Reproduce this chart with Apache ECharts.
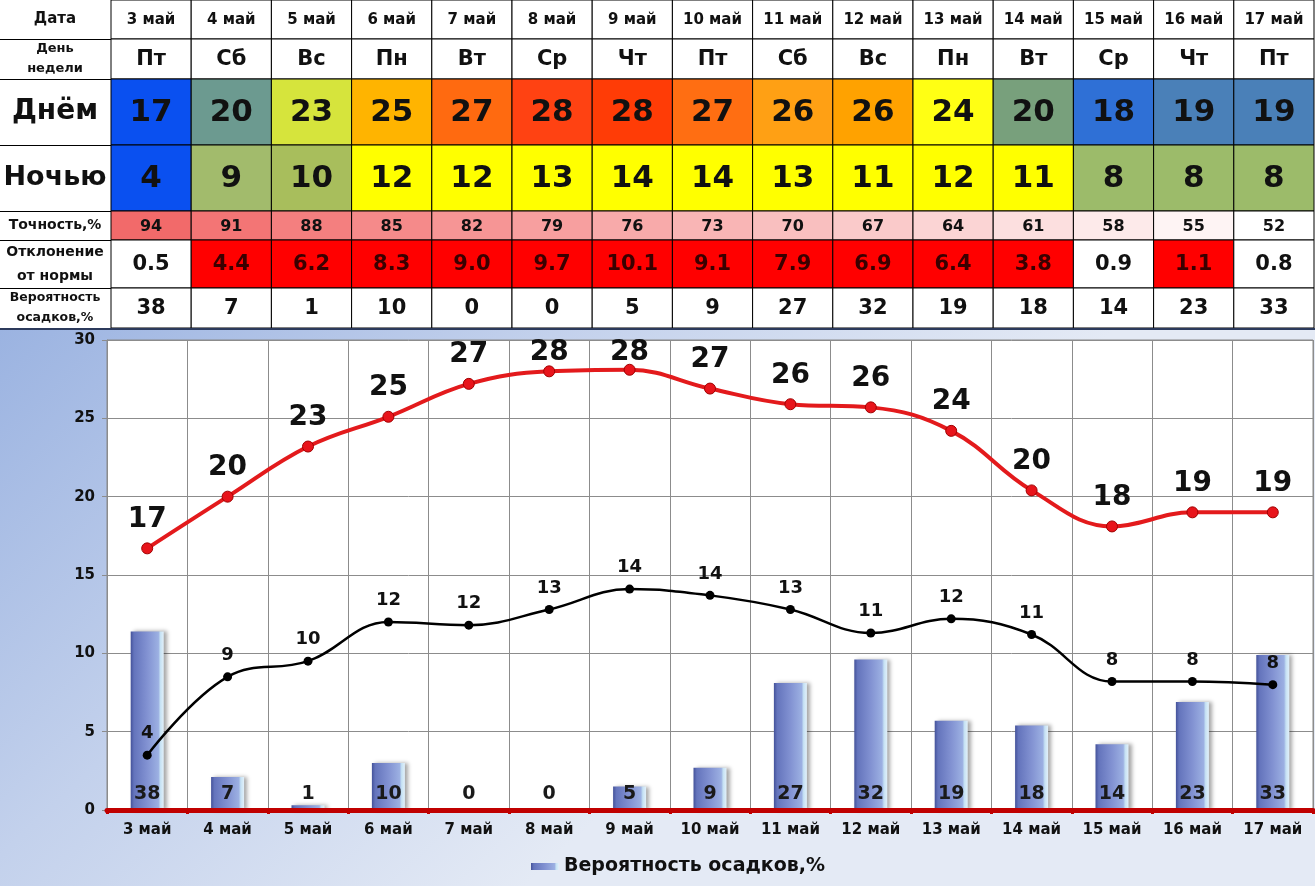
<!DOCTYPE html>
<html><head><meta charset="utf-8">
<script src="https://cdn.jsdelivr.net/npm/echarts@6/dist/echarts.min.js"></script>
<style>html,body{margin:0;padding:0;background:#fff}#c{width:1315px;height:886px}</style>
</head><body><div id="c"></div><script>
// ---------- data ----------
const dates = ['3 май','4 май','5 май','6 май','7 май','8 май','9 май','10 май','11 май','12 май','13 май','14 май','15 май','16 май','17 май'];
const weekdays = ['Пт','Сб','Вс','Пн','Вт','Ср','Чт','Пт','Сб','Вс','Пн','Вт','Ср','Чт','Пт'];
const dayTemp = [17,20,23,25,27,28,28,27,26,26,24,20,18,19,19];
const nightTemp = [4,9,10,12,12,13,14,14,13,11,12,11,8,8,8];
const accuracy = [94,91,88,85,82,79,76,73,70,67,64,61,58,55,52];
const deviation = [0.5,4.4,6.2,8.3,9.0,9.7,10.1,9.1,7.9,6.9,6.4,3.8,0.9,1.1,0.8];
const precip = [38,7,1,10,0,0,5,9,27,32,19,18,14,23,33];
// plotted curve values (as drawn in the chart)
const dayCurve = [16.7,20.0,23.2,25.1,27.2,28.0,28.1,26.9,25.9,25.7,24.2,20.4,18.1,19.0,19.0];
const nightCurve = [3.5,8.5,9.5,12.0,11.8,12.8,14.1,13.7,12.8,11.3,12.2,11.2,8.2,8.2,8.0];
const rowTitles = ['Дата','День\nнедели','Днём','Ночью','Точность,%','Отклонение\nот нормы','Вероятность\nосадков,%'];
const legendName = 'Вероятность осадков,%';

// ---------- styles ----------
const FF = 'DejaVu Sans';
const dayColors = ['#0a50f0','#6c9a90','#d6e43c','#ffb400','#ff6a10','#ff4212','#ff3c06','#ff6e12','#ffa014','#ffa200','#ffff14','#78a07c','#2f70d6','#4a80b8','#4a80b8'];
const nightColors = ['#0a50f0','#a2bb6c','#a8be5c','#ffff00','#ffff00','#ffff00','#ffff00','#ffff00','#ffff00','#ffff00','#ffff00','#ffff00','#9cbb6a','#9cbb6a','#9cbb6a'];
const devRed = [false,true,true,true,true,true,true,true,true,true,true,true,false,true,false];
const rowEdges = [0,39,79,145,211,240,288,328];
const rowTitleSize = [15,13,28,27,14,14,12.5];
const rowTitleLH = [18,20,32,32,18,24,20];
const PLOT_TOP = 340;

function mix(a, b, t){
  const pa=[parseInt(a.substr(1,2),16),parseInt(a.substr(3,2),16),parseInt(a.substr(5,2),16)];
  const pb=[parseInt(b.substr(1,2),16),parseInt(b.substr(3,2),16),parseInt(b.substr(5,2),16)];
  return 'rgb('+pa.map((v,i)=>Math.round(v+(pb[i]-v)*t)).join(',')+')';
}
function cellStyle(r,c){
  switch(r){
    case 0: return {text:dates[c], fill:'#fff', color:'#111', size:15};
    case 1: return {text:weekdays[c], fill:'#fff', color:'#111', size:21};
    case 2: return {text:String(dayTemp[c]), fill:dayColors[c], color:'#111', size:31};
    case 3: return {text:String(nightTemp[c]), fill:nightColors[c], color:'#111', size:31};
    case 4: {const t=(accuracy[c]-52)/(94-52); return {text:String(accuracy[c]), fill:mix('#ffffff','#f26a6a',t), color:'#111', size:16};}
    case 5: return {text:deviation[c].toFixed(1), fill:devRed[c]?'#ff0000':'#fff', color:devRed[c]?'#3a0000':'#111', size:21};
    default: return {text:String(precip[c]), fill:'#fff', color:'#111', size:21};
  }
}
const tableData = [];
for (let r=0;r<7;r++) for (let c=0;c<dates.length;c++) tableData.push([c,r]);

function renderCell(params, api){
  const c = api.value(0), r = api.value(1);
  const bw = api.size([1,0])[0];
  const cx = api.coord([c,0])[0];
  const y0 = api.coord([c,rowEdges[r]])[1];
  const y1 = api.coord([c,rowEdges[r+1]])[1];
  const s = cellStyle(r,c);
  return {type:'group', children:[
    {type:'rect', shape:{x:cx-bw/2, y:y0, width:bw, height:y1-y0}, style:{fill:s.fill, stroke:'#000', lineWidth:1}},
    {type:'text', style:{text:s.text, x:cx, y:(y0+y1)/2+1, align:'center', verticalAlign:'middle', fontSize:s.size, fontWeight:'bold', fontFamily:FF, fill:s.color}}
  ]};
}

const graphics = [
  {type:'rect', z:-10, shape:{x:0,y:329,width:1315,height:557},
   style:{fill:new echarts.graphic.LinearGradient(0,0,0.4,1,[{offset:0,color:'#9bb3e1'},{offset:0.5,color:'#c3d1ec'},{offset:1,color:'#e4eaf5'}])}},
  {type:'line', z:5, shape:{x1:0,y1:329,x2:1315,y2:329}, style:{stroke:'#2c3a5c', lineWidth:2}}
];
for (let r=0;r<7;r++){
  graphics.push({type:'text', z:5, style:{text:rowTitles[r], x:55, y:(rowEdges[r]+rowEdges[r+1])/2, align:'center', verticalAlign:'middle',
    fontSize:rowTitleSize[r], lineHeight:rowTitleLH[r], fontWeight:'bold', fontFamily:FF, fill:'#111'}});
  if (r>0) graphics.push({type:'line', z:5, shape:{x1:0,y1:rowEdges[r]+0.5,x2:111,y2:rowEdges[r]+0.5}, style:{stroke:'#000',lineWidth:1}});
}

const barGrad = new echarts.graphic.LinearGradient(0,0,1,0,[
  {offset:0,color:'#44529a'},{offset:0.1,color:'#6474bc'},{offset:0.5,color:'#8292d2'},{offset:0.84,color:'#9cb0e2'},
  {offset:0.9,color:'#c6e2f4'},{offset:1,color:'#e2f0fa'}]);

const chart = echarts.init(document.getElementById('c'), null, {renderer:'canvas'});
chart.setOption({
  animation:false,
  textStyle:{fontFamily:FF},
  graphic: graphics,
  grid:[
    {left:111, top:0, width:1203, height:328},
    {left:107, top:PLOT_TOP, width:1206, height:470, show:true, backgroundColor:'#fff', borderColor:'#888', borderWidth:1}
  ],
  xAxis:[
    {gridIndex:0, type:'category', data:dates, show:false},
    {gridIndex:1, type:'category', data:dates, position:'top', axisLine:{show:false}, axisTick:{show:false}, axisLabel:{show:false},
      splitLine:{show:true, lineStyle:{color:'#8c8c8c', width:1}}},
    {gridIndex:1, type:'category', data:dates, position:'bottom', z:6,
      axisLine:{show:true, lineStyle:{color:'#c00000', width:5}},
      axisTick:{show:true, length:4, lineStyle:{color:'#c00000', width:3}},
      axisLabel:{fontSize:15, fontWeight:'bold', color:'#111', margin:13, fontFamily:FF},
      splitLine:{show:false}}
  ],
  yAxis:[
    {gridIndex:0, type:'value', min:0, max:328, inverse:true, show:false},
    {gridIndex:1, type:'value', min:0, max:30, interval:5,
      axisLine:{show:true, lineStyle:{color:'#8c8c8c'}},
      axisTick:{show:true, length:5, lineStyle:{color:'#8c8c8c'}},
      axisLabel:{fontSize:15, fontWeight:'bold', color:'#111', margin:12, fontFamily:FF},
      splitLine:{show:true, lineStyle:{color:'#8c8c8c', width:1}}},
    {gridIndex:1, type:'value', min:0, max:100, show:false}
  ],
  legend:{data:[legendName], left:526, top:852, itemWidth:28, itemHeight:7, icon:'rect', itemGap:4,
    textStyle:{fontSize:19, fontWeight:'bold', color:'#111', fontFamily:FF}},
  series:[
    {type:'custom', xAxisIndex:0, yAxisIndex:0, data:tableData, renderItem:renderCell, silent:true},
    {name:legendName, type:'bar', xAxisIndex:2, yAxisIndex:2, data:precip, barWidth:33, z:2,
      itemStyle:{color:barGrad, shadowColor:'rgba(0,0,0,0.35)', shadowBlur:4, shadowOffsetX:3, shadowOffsetY:0},
      label:{show:true, position:'insideBottom', distance:6, fontSize:19, fontWeight:'bold', color:'#1a1a1a', fontFamily:FF}},
    {name:'day', type:'line', xAxisIndex:2, yAxisIndex:1, data:dayCurve, smooth:0.4, z:4,
      symbol:'circle', symbolSize:11,
      lineStyle:{color:'#e31a1c', width:4},
      itemStyle:{color:'#e8141b', borderColor:'#a00000', borderWidth:1},
      label:{show:true, position:'top', distance:9, fontSize:28, fontWeight:'bold', color:'#111', fontFamily:FF,
        formatter:p=>String(dayTemp[p.dataIndex])},
      labelLayout:function(p){
        if (p.labelRect.y < PLOT_TOP - 2) {
          return {x: p.rect.x + p.rect.width/2, y: PLOT_TOP - 1, align:'center', verticalAlign:'top'};
        }
        return {};
      }},
    {name:'night', type:'line', xAxisIndex:2, yAxisIndex:1, data:nightCurve, smooth:0.4, z:4,
      symbol:'circle', symbolSize:9,
      lineStyle:{color:'#000', width:2.5},
      itemStyle:{color:'#000'},
      label:{show:true, position:'top', distance:8, fontSize:18, fontWeight:'bold', color:'#111', fontFamily:FF,
        formatter:p=>String(nightTemp[p.dataIndex])}}
  ]
});
</script></body></html>
